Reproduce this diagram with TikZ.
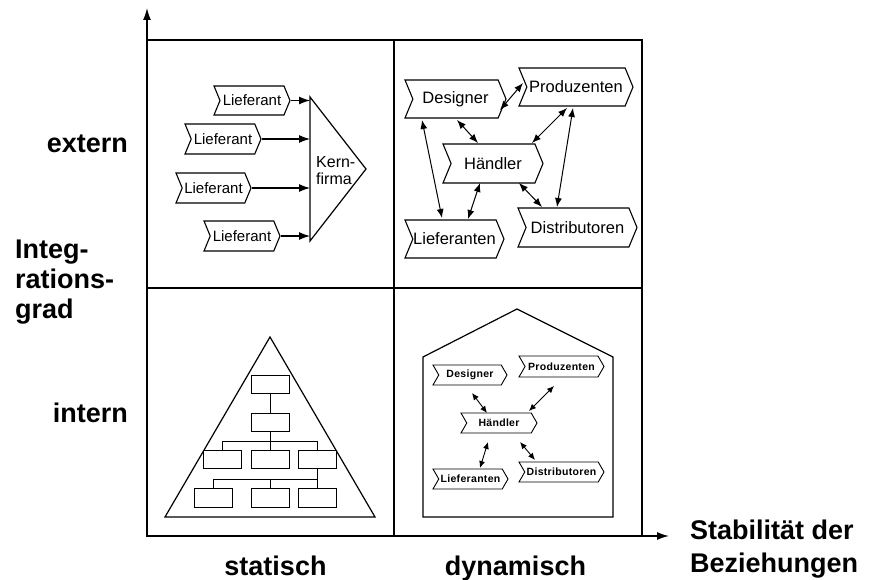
\documentclass[tikz,border=0pt]{standalone}
\usepackage{fontspec}
\setmainfont{Liberation Sans}
\newfontfamily\spfont[LetterSpace=3]{Liberation Sans}
\usetikzlibrary{shapes.symbols,arrows.meta,calc}
\tikzset{
 chev/.style={shape=signal, signal to=east, signal from=west, signal pointer angle=135, draw, line width=1.1pt, inner sep=0pt, fill=white},
 bigchev/.style={chev, font=\fontsize{16.5}{18}\selectfont},
 lchev/.style={chev, font=\fontsize{15}{17}\selectfont},
 schev/.style={chev, signal pointer angle=120, line width=0.9pt, font=\spfont\bfseries\fontsize{10.5}{12}\selectfont},
 dar/.style={{Latex[length=9pt,width=7pt]}-{Latex[length=9pt,width=7pt]}, line width=1pt},
 sar/.style={{Latex[length=7pt,width=6pt]}-{Latex[length=7pt,width=6pt]}, line width=0.9pt},
 kar/.style={-{Latex[length=11pt,width=8pt]}, line width=1.1pt},
 axar/.style={-{Latex[length=12pt,width=8pt]}, line width=1.4pt},
 orgbox/.style={draw, line width=1pt, minimum width=38pt, minimum height=18pt, inner sep=0pt, fill=white},
 axlab/.style={font=\bfseries\fontsize{27}{30}\selectfont, inner sep=0pt},
}
\begin{document}
\begin{tikzpicture}[x=1pt,y=-1pt]
\useasboundingbox (0,0) rectangle (871,580);
\fill[white] (0,0) rectangle (871,580);

% frame and axes
\draw[line width=1.4pt] (147,40) rectangle (642,536);
\draw[line width=1.2pt] (394,40) -- (394,536);
\draw[line width=1.2pt] (147,288) -- (642,288);
\coordinate (O) at (147,536);
\coordinate (ytop) at (147,8);
\coordinate (xend) at (669,536);
\draw[axar] (O) -- (ytop);
\draw[axar] (O) -- (xend);

% axis labels
\node[axlab, anchor=base east] (ext) at (128,153) {extern};
\node[axlab, anchor=base east] (int) at (128,422) {intern};
\node[axlab, anchor=north west, align=left] (ig) at (15,239.5) {Integ-\\rations-\\grad};
\node[axlab, anchor=base] (stat) at (275.5,575) {statisch};
\node[axlab, anchor=base] (dyn) at (515.5,575) {dynamisch};
\node[axlab, anchor=north west, align=left, font=\bfseries\fontsize{27}{33}\selectfont] (stab) at (690,520) {Stabilität der\\Beziehungen};

% top-left: Kernfirma
\draw[line width=1.2pt, fill=white] (310,97) -- (366,169) -- (310,241) -- cycle;
\coordinate (kl) at (310,169);
\node[anchor=west, align=left, inner sep=0pt, font=\fontsize{16}{17}\selectfont] (kern) at (316,171) {Kern-\\firma};
\node[lchev, minimum width=76pt, minimum height=29pt] (L1) at (252,100.5) {Lieferant};
\node[lchev, minimum width=76pt, minimum height=30pt] (L2) at (223,139) {Lieferant};
\node[lchev, minimum width=75pt, minimum height=30pt] (L3) at (213.5,188) {Lieferant};
\node[lchev, minimum width=76pt, minimum height=30pt] (L4) at (242,236) {Lieferant};
\foreach \n in {L1,L2,L3,L4} \draw[kar] (\n.east) -- (\n.east -| kl);

% top-right: network
\node[bigchev, minimum width=101pt, minimum height=38pt] (D) at (455.5,99) {Designer};
\node[bigchev, minimum width=114pt, minimum height=38pt] (P) at (576,87) {Produzenten};
\node[bigchev, minimum width=100pt, minimum height=39pt] (H) at (493,163.5) {Händler};
\node[bigchev, minimum width=99pt, minimum height=38pt] (Lf) at (454.5,239) {Lieferanten};
\node[bigchev, minimum width=119pt, minimum height=39pt] (Di) at (577.5,227.5) {Distributoren};
\draw[dar] ($(D)+(44.5,11)$) -- ($(P)+(-53,-4)$);
\draw[dar] ($(D)+(1.5,21)$) -- ($(H)+(-15,-20.5)$);
\draw[dar] ($(D)+(-33.5,21)$) -- ($(Lf)+(-12.5,-21)$);
\draw[dar] ($(P)+(-9,21)$) -- ($(H)+(39,-20.5)$);
\draw[dar] ($(P)+(-3,21)$) -- ($(Di)+(-20.5,-20.5)$);
\draw[dar] ($(H)+(-13,19.5)$) -- ($(Lf)+(13.5,-20)$);
\draw[dar] ($(H)+(26,19.5)$) -- ($(Di)+(-35.5,-20.5)$);

% bottom-left: pyramid with hierarchy
\draw[line width=1.2pt] (270,337) -- (165,517) -- (375,517) -- cycle;
\node[orgbox] (b1) at (270,384) {};
\node[orgbox] (b2) at (270,422) {};
\node[orgbox] (b31) at (222,459.5) {};
\node[orgbox] (b32) at (270,459.5) {};
\node[orgbox] (b33) at (317.5,459.5) {};
\node[orgbox, minimum height=19pt] (b41) at (213,498) {};
\node[orgbox, minimum height=19pt] (b42) at (270,498) {};
\node[orgbox, minimum height=19pt] (b43) at (317.5,498) {};
\coordinate (bus1) at (270,441);
\coordinate (bus2) at (270,479);
\draw[line width=1pt] (b1.south) -- (b2.north);
\draw[line width=1pt] (b2.south) -- (b32.north);
\draw[line width=1pt] (b31.north) -- (b31.north |- bus1) -- (b33.north |- bus1) -- (b33.north);
\draw[line width=1pt] (b33.south) -- (b43.north);
\draw[line width=1pt] (b41.north) -- (b41.north |- bus2) -- (b43.north |- bus2);
\draw[line width=1pt] (b42.north) -- (b42.north |- bus2);

% bottom-right: house with network
\draw[line width=1.2pt] (423,517) -- (423,357) -- (517,309) -- (613,357) -- (613,517) -- cycle;
\node[schev, minimum width=74pt, minimum height=20pt] (sD) at (470,375) {Designer};
\node[schev, minimum width=85pt, minimum height=21pt] (sP) at (561.5,366.5) {Produzenten};
\node[schev, minimum width=76pt, minimum height=20pt] (sH) at (499,423) {Händler};
\node[schev, minimum width=75pt, minimum height=20pt] (sL) at (470.5,479) {Lieferanten};
\node[schev, minimum width=85pt, minimum height=20pt] (sDi) at (561.5,472) {Distributoren};
\draw[sar] ($(sD)+(2,18)$) -- ($(sH)+(-12,-10)$);
\draw[sar] ($(sP)+(-7.5,19.5)$) -- ($(sH)+(30,-12)$);
\draw[sar] ($(sH)+(-11,19)$) -- ($(sL)+(9.5,-11)$);
\draw[sar] ($(sH)+(21,19)$) -- ($(sDi)+(-26.5,-12)$);
\end{tikzpicture}
\end{document}
